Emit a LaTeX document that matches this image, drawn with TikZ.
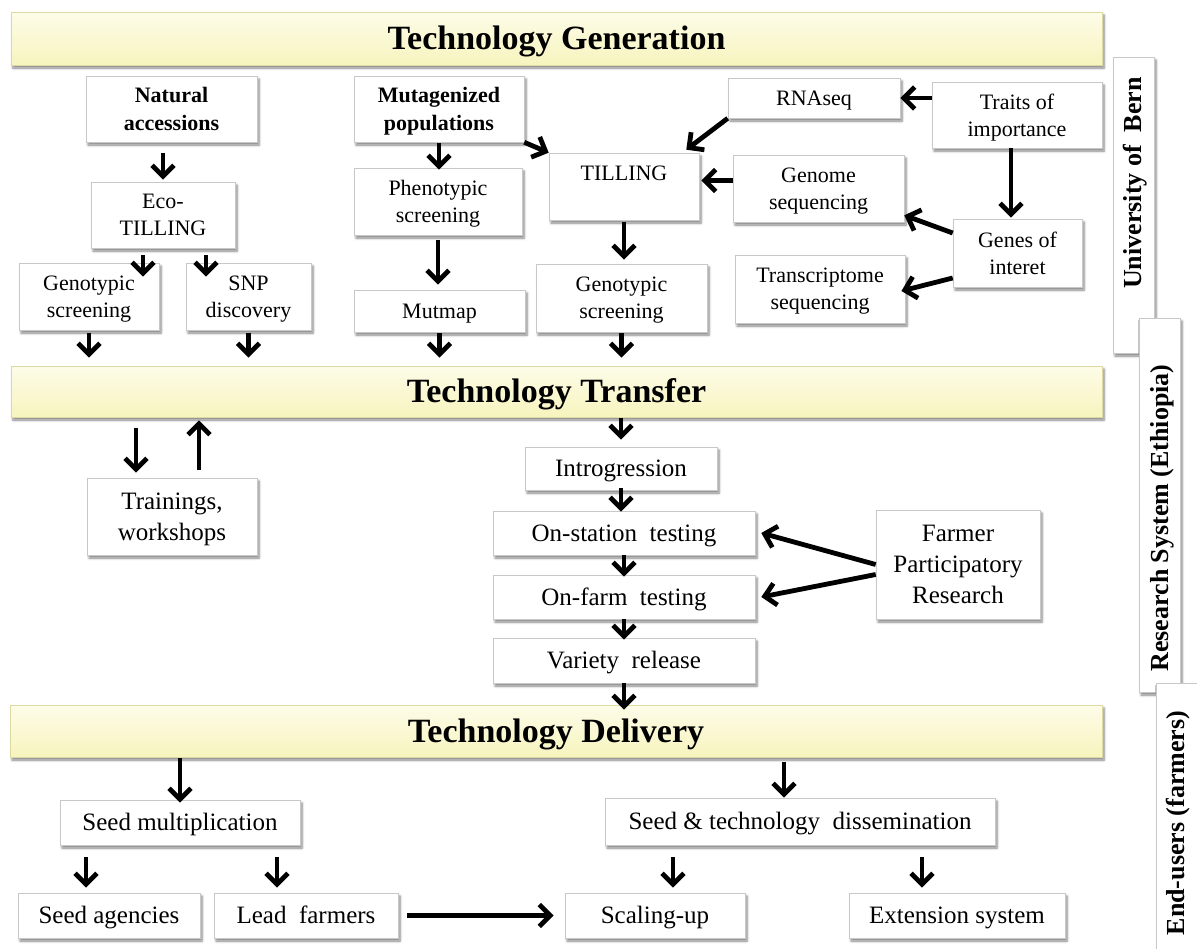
\documentclass[tikz,border=0pt]{standalone}
\usepackage{fontspec}
\setmainfont{Liberation Serif}
\usetikzlibrary{arrows.meta,shadows.blur}
\definecolor{bantop}{HTML}{FDFCE8}
\definecolor{banbot}{HTML}{F7F4BE}
\definecolor{banedge}{HTML}{DDD9A4}
\definecolor{boxedge}{HTML}{C8C8C8}
\newcommand\nodepth[1]{\raisebox{0pt}[\height][0pt]{#1}}
\begin{document}
\begin{tikzpicture}[x=1pt,y=-1pt,
  shad/.style={blur shadow={shadow xshift=2pt,shadow yshift=-3pt,shadow blur radius=2.5pt,shadow blur steps=5,shadow opacity=50}},
  box/.style={draw=boxedge,line width=0.6pt,fill=white,shad,inner sep=0pt,align=center,font=\fontsize{22}{27}\selectfont},
  bbox/.style={box,font=\bfseries\fontsize{22}{28}\selectfont},
  lbox/.style={box,font=\fontsize{25}{31}\selectfont},
  one/.style={text height=18.5pt,text depth=4pt},
  lone/.style={text height=21pt,text depth=4.5pt},
  banner/.style={draw=banedge,line width=0.6pt,top color=bantop,bottom color=banbot,shad,inner sep=0pt,font=\bfseries\fontsize{34}{40}\selectfont,text height=28.5pt,text depth=6pt},
  side/.style={draw=boxedge,line width=0.8pt,fill=white,shad,inner sep=0pt},
  sidetext/.style={rotate=90,inner sep=0pt,font=\bfseries\fontsize{26}{30}\selectfont},
  arr/.style={line width=4.8pt,-{Straight Barb[length=11pt,width=22pt]}}]
\useasboundingbox (0,0) rectangle (1197,948);

% side labels
\node[side,minimum width=41pt,minimum height=296pt] (ubox) at (1133.5,205) {};
\node[sidetext] (utext) at (1135,183) {University of\ \ Bern};
\node[side,minimum width=41pt,minimum height=374pt] (rbox) at (1159.5,505) {};
\node[sidetext] (rtext) at (1162,518) {Research System (Ethiopia)};
\node[side,minimum width=44pt,minimum height=272pt] (ebox) at (1178,819) {};
\node[sidetext] (etext) at (1178,823) {End-users (farmers)};

% banners
\node[banner,minimum width=1091pt,minimum height=53pt] (tg) at (556.5,38.5) {Technology Generation};
\node[banner,minimum width=1091pt,minimum height=51pt] (tt) at (556.5,391.5) {Technology Transfer};
\node[banner,minimum width=1092pt,minimum height=52pt] (td) at (556,731) {Technology Delivery};

% generation
\node[bbox,minimum width=171pt,minimum height=66pt] (nat) at (171.5,109) {Natural\\\nodepth{accessions}};
\node[bbox,minimum width=170pt,minimum height=66pt] (mut) at (439,109) {Mutagenized\\\nodepth{populations}};
\node[box,minimum width=144pt,minimum height=66pt] (eco) at (163,215) {Eco-\\\nodepth{TILLING}};
\node[box,minimum width=168pt,minimum height=67pt] (phe) at (438,201.5) {Phenotypic\\\nodepth{screening}};
\node[box,minimum width=140pt,minimum height=67pt] (geno1) at (89,296.5) {Genotypic\\\nodepth{screening}};
\node[box,minimum width=125pt,minimum height=67pt] (snp) at (248.5,296.5) {SNP\\\nodepth{discovery}};
\node[box,one,minimum width=171pt,minimum height=42pt] (mutmap) at (439.5,311) {Mutmap};
\node[box,minimum width=150pt,minimum height=67pt] (till) at (624,186.5) {TILLING\\\mbox{}};
\node[box,one,minimum width=172pt,minimum height=40pt] (rna) at (814,98) {RNAseq};
\node[box,minimum width=170pt,minimum height=66pt] (traits) at (1017,115) {Traits of\\\nodepth{importance}};
\node[box,minimum width=171pt,minimum height=67pt] (genome) at (818.5,188.5) {Genome\\\nodepth{sequencing}};
\node[box,minimum width=129pt,minimum height=68pt] (genes) at (1017.5,253) {Genes of\\\nodepth{interet}};
\node[box,minimum width=170pt,minimum height=68pt] (trans) at (820,289) {Transcriptome\\\nodepth{sequencing}};
\node[box,minimum width=171pt,minimum height=68pt] (geno2) at (621.5,298) {Genotypic\\\nodepth{screening}};

% transfer
\node[lbox,minimum width=170pt,minimum height=77pt] (train) at (172,516.5) {Trainings,\\\nodepth{workshops}};
\node[lbox,lone,minimum width=192pt,minimum height=43pt] (intro) at (621,468.5) {Introgression};
\node[lbox,lone,minimum width=262pt,minimum height=44pt] (onst) at (624,533) {On-station\ \ testing};
\node[lbox,lone,minimum width=262pt,minimum height=44pt] (onfa) at (624,597) {On-farm\ \ testing};
\node[lbox,lone,minimum width=262pt,minimum height=45pt] (var) at (624,660.5) {Variety\ \ release};
\node[lbox,minimum width=164pt,minimum height=109pt] (fpr) at (958,564.5) {Farmer\\Participatory\\\nodepth{Research}};

% delivery
\node[lbox,lone,minimum width=240pt,minimum height=45pt] (seedm) at (180,822.5) {Seed multiplication};
\node[lbox,lone,minimum width=390pt,minimum height=47pt] (seedt) at (800,821.5) {Seed \& technology\ \ dissemination};
\node[lbox,lone,minimum width=182pt,minimum height=45pt] (sa) at (109,915.5) {Seed agencies};
\node[lbox,lone,minimum width=184pt,minimum height=45pt] (lf) at (306,915.5) {Lead\ \ farmers};
\node[lbox,lone,minimum width=180pt,minimum height=45pt] (su) at (655,915.5) {Scaling-up};
\node[lbox,lone,minimum width=216pt,minimum height=45pt] (es) at (957,915.5) {Extension system};

% generation arrows
\draw[arr,shorten <=11pt,shorten >=2pt] (eco.north |- nat.south) -- (eco.north);
\draw[arr,shorten <=7pt,shorten >=-14pt] ([xshift=-20pt]eco.south) -- ([xshift=-20pt]eco.south |- geno1.north);
\draw[arr,shorten <=7pt,shorten >=-14pt] ([xshift=43pt]eco.south) -- ([xshift=43pt]eco.south |- snp.north);
\draw[arr,shorten <=3pt,shorten >=8pt] (geno1.south) -- (geno1.south |- tt.north);
\draw[arr,shorten <=3pt,shorten >=8pt] (snp.south) -- (snp.south |- tt.north);
\draw[arr,shorten <=1pt,shorten >=-2pt] (mut.south) -- (mut.south |- phe.north);
\draw[arr,shorten <=5pt,shorten >=5pt] (phe.south) -- (phe.south |- mutmap.north);
\draw[arr,shorten <=1pt,shorten >=8pt] (mutmap.south) -- (mutmap.south |- tt.north);
\draw[arr] (mut.south east) -- (till.north west);
\draw[arr] (traits.west |- rna.east) -- (rna.east);
\draw[arr] (rna.south west) -- ([xshift=-13pt,yshift=3pt]till.north east);
\draw[arr,shorten >=2pt] ([yshift=8pt]genome.west) -- ([yshift=8pt]genome.west -| till.east);
\draw[arr,shorten >=1pt] ([xshift=-6pt]traits.south) -- ([xshift=-6pt]traits.south |- genes.north);
\draw[arr] ([yshift=20pt]genes.west) -- ([yshift=7pt]genome.south east);
\draw[arr,shorten >=-4pt] ([yshift=-25pt]genes.west) -- ([yshift=-1pt]trans.east);
\draw[arr,shorten <=2pt,shorten >=4pt] (till.south) -- (till.south |- geno2.north);
\draw[arr,shorten <=1pt,shorten >=8pt] (geno2.south) -- (geno2.south |- tt.north);

% transfer arrows
\draw[arr,shorten <=11pt,shorten >=5pt] ([xshift=-36pt]train.north |- tt.south) -- ([xshift=-36pt]train.north);
\draw[arr,shorten <=8pt,shorten >=3pt] ([xshift=27pt]train.north) -- ([xshift=27pt]train.north |- tt.south);
\draw[arr,shorten <=1pt,shorten >=7pt] (intro.north |- tt.south) -- (intro.north);
\draw[arr,shorten <=-2pt,shorten >=-1pt] (intro.south) -- (intro.south |- onst.north);
\draw[arr,shorten >=-2pt] (onst.south) -- (onfa.north);
\draw[arr,shorten >=-2pt] (onfa.south) -- (var.north);
\draw[arr,shorten >=-5pt] (var.south) -- (var.south |- td.north);
\draw[arr] (fpr.west) -- ([xshift=6pt]onst.east);
\draw[arr] ([yshift=-10pt]fpr.west) -- ([xshift=6pt]onfa.east);

% delivery arrows
\draw[arr,shorten <=1pt,shorten >=-3pt] (seedm.north |- td.south) -- (seedm.north);
\draw[arr,shorten <=5pt] ([xshift=-16pt]seedt.north |- td.south) -- ([xshift=-16pt]seedt.north);
\draw[arr,shorten <=12pt,shorten >=5pt] ([xshift=-23pt]sa.north |- seedm.south) -- ([xshift=-23pt]sa.north);
\draw[arr,shorten <=12pt,shorten >=5pt] ([xshift=-29pt]lf.north |- seedm.south) -- ([xshift=-29pt]lf.north);
\draw[arr,shorten <=12pt,shorten >=5pt] ([xshift=18pt]su.north |- seedt.south) -- ([xshift=18pt]su.north);
\draw[arr,shorten <=12pt,shorten >=5pt] ([xshift=-35pt]es.north |- seedt.south) -- ([xshift=-35pt]es.north);
\draw[arr,shorten <=9pt,shorten >=11pt] (lf.east) -- (su.west);
\end{tikzpicture}
\end{document}
